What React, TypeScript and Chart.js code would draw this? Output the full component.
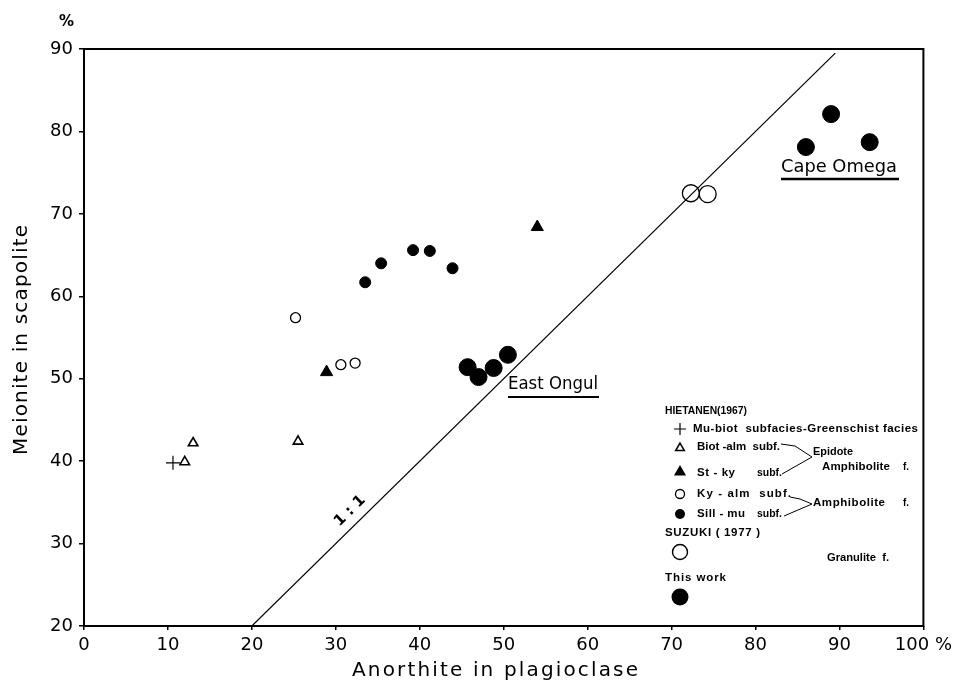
import { useEffect, useRef } from 'react';
import { Chart, registerables } from 'chart.js';

Chart.register(...registerables);

// ---- data ----
const muBiotX = [10.6];
const muBiotY = [39.8];
const biotAlmX = [12.0, 13.0, 25.5];
const biotAlmY = [39.9, 42.2, 42.4];
const stKyX = [28.9, 54.0];
const stKyY = [50.8, 68.4];
const kyAlmX = [25.2, 30.6, 32.3];
const kyAlmY = [57.4, 51.7, 51.9];
const sillMuX = [33.5, 35.4, 39.2, 41.2, 43.9];
const sillMuY = [61.7, 64.0, 65.6, 65.5, 63.4];
const suzukiX = [72.3, 74.3];
const suzukiY = [72.5, 72.4];
const thisWorkX = [45.7, 47.0, 48.8, 50.5, 86.0, 89.0, 93.6];
const thisWorkY = [51.4, 50.2, 51.3, 52.9, 78.1, 82.1, 78.7];
const oneToOneX = [20, 89.5];
const oneToOneY = [20, 89.5];

const xMin = 0, xMax = 100, xStep = 10;
const yMin = 20, yMax = 90, yStep = 10;

const xTitle = 'Anorthite in plagioclase';
const yTitle = 'Meionite in scapolite';

const W = 957;
const H = 686;

const pts = (xs: number[], ys: number[]) => xs.map((x, i) => ({ x, y: ys[i] }));

function fitText(ctx: CanvasRenderingContext2D, text: string, x: number, y: number, w: number, font: string) {
  ctx.font = font;
  (ctx as any).letterSpacing = '0px';
  const m = ctx.measureText(text).width;
  const n = text.length;
  if (m > w) {
    ctx.save();
    ctx.translate(x, y);
    ctx.scale(w / m, 1);
    ctx.fillText(text, 0, 0);
    ctx.restore();
    return;
  }
  let ls = n > 1 ? (w - m) / (n - 1) : 0;
  if (ls > 3) ls = 3;
  (ctx as any).letterSpacing = ls + 'px';
  ctx.fillText(text, x, y);
  (ctx as any).letterSpacing = '0px';
}

const notesPlugin = {
  id: 'notes',
  afterDraw(chart: any) {
    const { ctx, chartArea: a } = chart;
    ctx.save();
    ctx.strokeStyle = '#000';
    ctx.fillStyle = '#000';
    // frame
    ctx.lineWidth = 2;
    ctx.strokeRect(a.left, a.top, a.right - a.left, a.bottom - a.top);

    // axis titles
    ctx.textAlign = 'left';
    ctx.textBaseline = 'alphabetic';
    fitText(ctx, xTitle, 352, 676, 286, '20px "DejaVu Sans"');
    ctx.save();
    ctx.translate(22, 455);
    ctx.rotate(-Math.PI / 2);
    ctx.textBaseline = 'middle';
    fitText(ctx, yTitle, 0, 0, 230, '20px "DejaVu Sans"');
    ctx.restore();

    // percent sign above y axis
    ctx.textBaseline = 'middle';
    ctx.font = 'bold 15px "DejaVu Sans"';
    ctx.fillText('%', 59, 22);

    // 1:1 label
    ctx.save();
    ctx.translate(350, 511);
    ctx.rotate(-Math.atan2(8.243, 8.42));
    ctx.textAlign = 'center';
    ctx.font = 'bold 15px "DejaVu Sans"';
    ctx.fillText('1 : 1', 0, 0);
    ctx.restore();

    // locality labels
    ctx.textBaseline = 'middle';
    fitText(ctx, 'East Ongul', 508, 384, 90, '18px "DejaVu Sans"');
    ctx.lineWidth = 2;
    ctx.beginPath(); ctx.moveTo(508, 397); ctx.lineTo(599, 397); ctx.stroke();
    fitText(ctx, 'Cape Omega', 781, 167, 116, '18px "DejaVu Sans"');
    ctx.lineWidth = 2.5;
    ctx.beginPath(); ctx.moveTo(781, 179); ctx.lineTo(899, 179); ctx.stroke();

    // legend
    const lf = 'bold 11.5px "Liberation Sans"';
    const mx = 680;
    fitText(ctx, 'HIETANEN(1967)', 665, 411, 82, lf);
    ctx.lineWidth = 1.2;
    ctx.beginPath(); ctx.moveTo(mx - 6, 429); ctx.lineTo(mx + 6, 429); ctx.moveTo(mx, 423); ctx.lineTo(mx, 435); ctx.stroke();
    fitText(ctx, 'Mu-biot  subfacies-Greenschist facies', 693, 429, 225, lf);
    const tri = (cx: number, cy: number, r: number, fill: boolean) => {
      ctx.beginPath();
      for (let k = 0; k < 3; k++) {
        const ang = -Math.PI / 2 + k * 2 * Math.PI / 3;
        const px = cx + Math.cos(ang) * r, py = cy + Math.sin(ang) * r;
        if (k === 0) ctx.moveTo(px, py); else ctx.lineTo(px, py);
      }
      ctx.closePath();
      if (fill) ctx.fill(); else ctx.stroke();
    };
    ctx.lineWidth = 1.5;
    tri(mx, 448, 5, false);
    fitText(ctx, 'Biot -alm  subf.', 697, 447, 83, lf);
    tri(mx, 472, 7, true);
    fitText(ctx, 'St - ky', 697, 473, 38, lf);
    fitText(ctx, 'subf.', 757, 473, 25, lf);
    fitText(ctx, 'Epidote', 813, 452, 40, lf);
    fitText(ctx, 'Amphibolite', 822, 467, 68, lf);
    fitText(ctx, 'f.', 903, 467, 6, lf);
    ctx.lineWidth = 1;
    ctx.beginPath();
    ctx.moveTo(781, 444); ctx.lineTo(795, 446); ctx.lineTo(812, 457); ctx.lineTo(782, 474);
    ctx.stroke();
    ctx.lineWidth = 1.3;
    ctx.beginPath(); ctx.arc(mx, 494, 4.5, 0, Math.PI * 2); ctx.stroke();
    fitText(ctx, 'Ky - alm  subf.', 697, 494, 94, lf);
    ctx.beginPath(); ctx.arc(mx, 514, 5, 0, Math.PI * 2); ctx.fill();
    fitText(ctx, 'Sill - mu', 697, 514, 48, lf);
    fitText(ctx, 'subf.', 757, 514, 25, lf);
    ctx.lineWidth = 1;
    ctx.beginPath();
    ctx.moveTo(790, 497); ctx.lineTo(800, 499); ctx.lineTo(812, 504); ctx.lineTo(784, 516);
    ctx.stroke();
    fitText(ctx, 'Amphibolite', 813, 503, 72, lf);
    fitText(ctx, 'f.', 903, 503, 6, lf);
    fitText(ctx, 'SUZUKI ( 1977 )', 665, 533, 95, lf);
    ctx.lineWidth = 1.4;
    ctx.beginPath(); ctx.arc(mx, 552, 7.5, 0, Math.PI * 2); ctx.stroke();
    fitText(ctx, 'Granulite  f.', 827, 558, 62, lf);
    fitText(ctx, 'This work', 665, 578, 61, lf);
    ctx.beginPath(); ctx.arc(mx, 597, 8.5, 0, Math.PI * 2); ctx.fill();

    ctx.restore();
  },
};

export default function App() {
  const ref = useRef<HTMLCanvasElement | null>(null);
  useEffect(() => {
    document.body.style.margin = '0';
    const canvas = ref.current;
    if (!canvas) return;
    const black = '#000';
    const chart = new Chart(canvas, {
      type: 'scatter',
      data: {
        datasets: [
          { label: 'Mu-biot', data: pts(muBiotX, muBiotY), pointStyle: 'cross', pointRadius: 7, borderWidth: 1.2, borderColor: black, backgroundColor: black },
          { label: 'Biot-alm', data: pts(biotAlmX, biotAlmY), pointStyle: 'triangle', pointRadius: 5.5, borderWidth: 1.6, borderColor: black, backgroundColor: 'rgba(0,0,0,0)' },
          { label: 'St-ky', data: pts(stKyX, stKyY), pointStyle: 'triangle', pointRadius: 7, borderWidth: 1, borderColor: black, backgroundColor: black },
          { label: 'Ky-alm', data: pts(kyAlmX, kyAlmY), pointStyle: 'circle', pointRadius: 5, borderWidth: 1.3, borderColor: black, backgroundColor: 'rgba(0,0,0,0)' },
          { label: 'Sill-mu', data: pts(sillMuX, sillMuY), pointStyle: 'circle', pointRadius: 5.5, borderWidth: 1, borderColor: black, backgroundColor: black },
          { label: 'Suzuki', data: pts(suzukiX, suzukiY), pointStyle: 'circle', pointRadius: 8.5, borderWidth: 1.3, borderColor: black, backgroundColor: 'rgba(0,0,0,0)' },
          { label: 'This work', data: pts(thisWorkX, thisWorkY), pointStyle: 'circle', pointRadius: 8.5, borderWidth: 1, borderColor: black, backgroundColor: black },
          { label: '1:1', type: 'line', data: pts(oneToOneX, oneToOneY), showLine: true, pointRadius: 0, borderWidth: 1.2, borderColor: black, fill: false } as any,
        ],
      },
      options: {
        animation: false,
        responsive: false,
        devicePixelRatio: 1,
        events: [],
        layout: { padding: { top: 49, right: 31, left: 0, bottom: 0 } },
        plugins: { legend: { display: false }, tooltip: { enabled: false }, title: { display: false } },
        scales: {
          x: {
            type: 'linear',
            min: xMin,
            max: xMax,
            afterFit: (s: any) => { s.height = 60; },
            border: { display: false },
            grid: { display: true, drawOnChartArea: false, drawTicks: true, tickLength: 4, color: black, lineWidth: 1.5 },
            ticks: {
              stepSize: xStep,
              color: black,
              padding: 5,
              font: { family: '"DejaVu Sans"', size: 18 },
              maxRotation: 0,
              callback: (v: any) => (v === xMax ? v + ' %' : String(v)),
            },
          },
          y: {
            type: 'linear',
            min: yMin,
            max: yMax,
            afterFit: (s: any) => { s.width = 84; },
            border: { display: false },
            grid: { display: true, drawOnChartArea: false, drawTicks: true, tickLength: 5, color: black, lineWidth: 1.5 },
            ticks: {
              stepSize: yStep,
              color: black,
              padding: 6,
              font: { family: '"DejaVu Sans"', size: 18 },
            },
          },
        },
      },
      plugins: [notesPlugin],
    } as any);
    return () => chart.destroy();
  }, []);
  return (
    <div style={{ width: W, height: H, background: '#fff' }}>
      <canvas ref={ref} width={W} height={H} style={{ display: 'block', width: W, height: H }} />
    </div>
  );
}
